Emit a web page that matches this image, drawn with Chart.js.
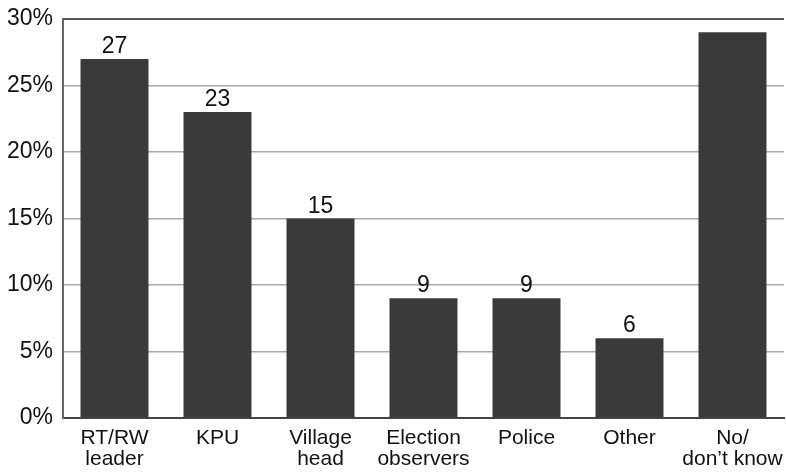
<!DOCTYPE html>
<html>
<head>
<meta charset="utf-8">
<script src="https://cdn.jsdelivr.net/npm/chart.js@4"></script>
<style>
  html, body { margin: 0; padding: 0; background: #fff; }
  #wrap { width: 786px; height: 472px; }
</style>
</head>
<body>
<div id="wrap"><canvas id="chart"></canvas></div>
<script>
const categories = [['RT/RW', 'leader'], 'KPU', ['Village', 'head'], ['Election', 'observers'], 'Police', 'Other', ['No/', 'don\u2019t know']];
const values = [27, 23, 15, 9, 9, 6, 29];
const valueLabels = ['27', '23', '15', '9', '9', '6', ''];
const yTicks = [0, 5, 10, 15, 20, 25, 30];

// labels above the bars
const barLabels = {
    id: 'barLabels',
    afterDatasetsDraw(chart) {
        const ctx = chart.ctx;
        const meta = chart.getDatasetMeta(0);
        ctx.save();
        ctx.fillStyle = '#111';
        ctx.font = '23px "Liberation Sans", Arial, sans-serif';
        ctx.textAlign = 'center';
        ctx.textBaseline = 'alphabetic';
        meta.data.forEach((bar, i) => {
            if (valueLabels[i]) ctx.fillText(valueLabels[i], bar.x, bar.y - 6);
        });
        ctx.restore();
    }
};

new Chart(document.getElementById('chart'), {
    type: 'bar',
    data: {
        labels: categories,
        datasets: [{
            data: values,
            backgroundColor: '#3a3a3a',
            borderWidth: 0,
            barPercentage: 0.66,
            categoryPercentage: 1
        }]
    },
    options: {
        responsive: true,
        maintainAspectRatio: false,
        animation: false,
        layout: { padding: { top: 19, right: 2, left: 0, bottom: 0 } },
        plugins: { legend: { display: false }, tooltip: { enabled: false } },
        scales: {
            x: {
                afterFit(scale) {
                    scale.height = 54;
                    scale.paddingLeft = 0;
                    scale.paddingRight = 0;
                },
                grid: { display: false, drawTicks: false },
                border: { color: '#444', width: 2 },
                ticks: {
                    color: '#111',
                    padding: 10,
                    maxRotation: 0,
                    autoSkip: false,
                    font: { family: '"Liberation Sans", Arial, sans-serif', size: 21, lineHeight: 1.0 }
                }
            },
            y: {
                min: 0,
                max: 30,
                afterFit(scale) {
                    scale.width = 63;
                    scale.paddingTop = 0;
                    scale.paddingBottom = 0;
                },
                afterBuildTicks(scale) { scale.ticks = yTicks.map(v => ({ value: v })); },
                grid: {
                    drawTicks: false,
                    color: ctx => ctx.tick && ctx.tick.value === 30 ? '#555' : '#aaa',
                    lineWidth: ctx => ctx.tick && ctx.tick.value === 30 ? 2 : 1.5
                },
                border: { color: '#666', width: 2 },
                ticks: {
                    color: '#111',
                    padding: 10,
                    callback: v => v + '%',
                    font: { family: '"Liberation Sans", Arial, sans-serif', size: 23 }
                }
            }
        }
    },
    plugins: [barLabels]
});
</script>
</body>
</html>
